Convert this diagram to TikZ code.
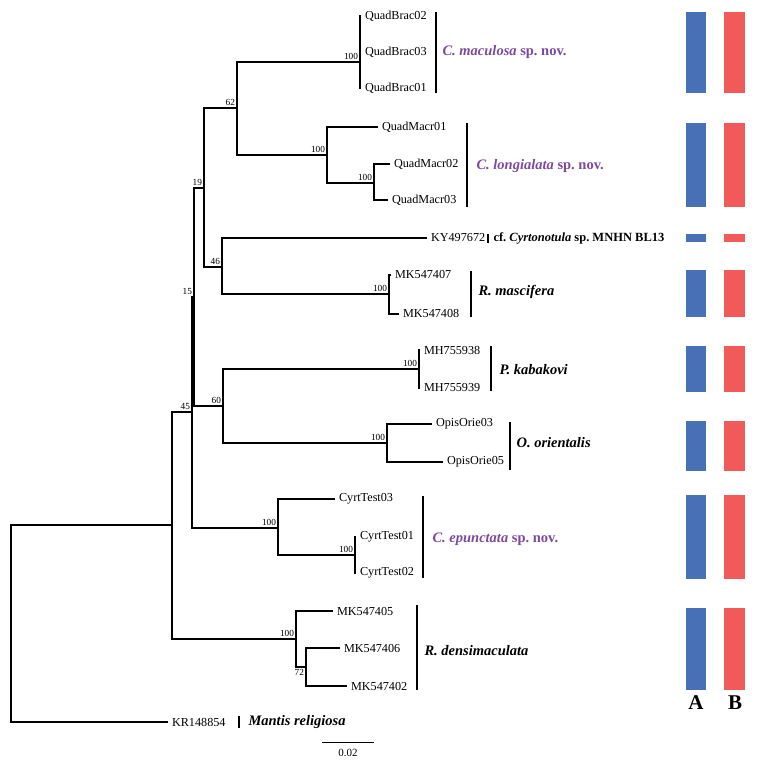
\documentclass[tikz,border=0pt]{standalone}
\usepackage{fontspec}
\setmainfont{Liberation Serif}
\definecolor{spnov}{RGB}{123,74,160}
\definecolor{barA}{RGB}{72,112,182}
\definecolor{barB}{RGB}{242,90,90}
\tikzset{boot/.style={font=\fontsize{9.3}{10}\selectfont,inner sep=1.5pt,anchor=south east},
  leaf/.style={font=\fontsize{12.2}{14}\selectfont,inner sep=0pt,anchor=west,xshift=3.5pt},
  clade/.style={line width=2.6pt},
  taxon/.style={font=\fontsize{14.5}{16}\selectfont\bfseries\itshape,inner sep=0pt,anchor=west}}
\begin{document}
\begin{tikzpicture}[x=1pt,y=-1pt,line width=1.05pt]
\useasboundingbox(0,0)rectangle(756,765);
% inner nodes of the tree
\coordinate(root)at(11,623.5);\coordinate(ing)at(172,525);\coordinate(n45)at(192,412);\coordinate(n15)at(194,297);\coordinate(n19)at(204,188);\coordinate(n62)at(237,108);\coordinate(brac)at(360,62);\coordinate(macr)at(327,155);\coordinate(mac23)at(374,183);
\coordinate(n46)at(222,267);\coordinate(masc)at(389,294);\coordinate(n60)at(223,406);\coordinate(kab)at(419,369);\coordinate(ori)at(387,443);\coordinate(cyrt)at(278,528);\coordinate(cy12)at(355,555);\coordinate(dens)at(296,639);\coordinate(d72)at(306,667);
% tips
\coordinate(QB2)at(361,16);\coordinate(QB3)at(361,52);\coordinate(QB1)at(361,88);\coordinate(QM1)at(378,127);\coordinate(QM2)at(390,164);\coordinate(QM3)at(388,200);\coordinate(KY)at(427,238);\coordinate(MK07)at(391,275);\coordinate(MK08)at(399,314);\coordinate(MH38)at(420,350);
\coordinate(MH39)at(420,388);\coordinate(OO3)at(432,424);\coordinate(OO5)at(443,462);\coordinate(CT3)at(335,499);\coordinate(CT1)at(356,537);\coordinate(CT2)at(356,573);\coordinate(MK05)at(333,611);\coordinate(MK06)at(340,648);\coordinate(MK02)at(347,686);\coordinate(KR)at(168,722);
\draw(root)|-(ing) (root)|-(KR) (ing)|-(n45) (ing)|-(dens) (n45)|-(n15) (n45)|-(cyrt) (n15)|-(n19) (n15)|-(n60) (n19)|-(n62) (n19)|-(n46) (n62)|-(brac) (n62)|-(macr);
\draw(brac)|-(QB2) (brac)|-(QB3) (brac)|-(QB1) (macr)|-(QM1) (macr)|-(mac23) (mac23)|-(QM2) (mac23)|-(QM3) (n46)|-(KY) (n46)|-(masc) (masc)|-(MK07) (masc)|-(MK08);
\draw(n60)|-(kab) (n60)|-(ori) (kab)|-(MH38) (kab)|-(MH39) (ori)|-(OO3) (ori)|-(OO5) (cyrt)|-(CT3) (cyrt)|-(cy12) (cy12)|-(CT1) (cy12)|-(CT2) (dens)|-(MK05) (dens)|-(d72) (d72)|-(MK06) (d72)|-(MK02);
\foreach\c/\t in{QB2/QuadBrac02,QB3/QuadBrac03,QB1/QuadBrac01,QM1/QuadMacr01,QM2/QuadMacr02,QM3/QuadMacr03,KY/KY497672,MK07/MK547407,MK08/MK547408,MH38/MH755938,MH39/MH755939,OO3/OpisOrie03,OO5/OpisOrie05,CT3/CyrtTest03,CT1/CyrtTest01,CT2/CyrtTest02,MK05/MK547405,MK06/MK547406,MK02/MK547402,KR/KR148854}{\node[leaf](t\c)at(\c){\t};}
\foreach\c/\v in{n45/45,n15/15,n19/19,n62/62,brac/100,macr/100,mac23/100,n46/46,masc/100,n60/60,kab/100,ori/100,cyrt/100,cy12/100,dens/100}{\node[boot](b\c)at(\c){\v};}
\node[boot,anchor=north east](bd72)at(d72){72};
% clade bars
\foreach\x/\ya/\yb in{436/12/93,467/123/207,488/234/243,471/271/317,491/346/391,510/422/470,423/496/578,417/605/690,239/716/728}{\draw[clade](\x,\ya)--(\x,\yb);}
\node[taxon,text=spnov](maculosa)at(442,52){C.\ maculosa {\upshape sp.\ nov.}};
\node[taxon,text=spnov](longialata)at(476,166){C.\ longialata {\upshape sp.\ nov.}};
\node[taxon,font=\fontsize{12.5}{14}\selectfont\bfseries](cyrtonotula)at(493,238.5){cf.\ \textit{Cyrtonotula} sp.\ MNHN BL13};
\node[taxon](mascifera)at(478,292){R.\ mascifera};
\node[taxon](kabakovi)at(499,370){P.\ kabakovi};
\node[taxon](orientalis)at(516,443){O.\ orientalis};
\node[taxon,text=spnov](epunctata)at(432,539){C.\ epunctata {\upshape sp.\ nov.}};
\node[taxon](densimaculata)at(424,651){R.\ densimaculata};
\node[taxon](mantis)at(248,722){Mantis religiosa};
% character states A and B
\foreach\ya/\yb in{12/93,123/207,234/242,270/317,346/392,421/471,495/579,608/690}{\fill[barA](686,\ya)rectangle(706,\yb);\fill[barB](724,\ya)rectangle(745,\yb);}
\node[font=\fontsize{21}{22}\selectfont\bfseries](labA)at(696,703){A};\node[font=\fontsize{21}{22}\selectfont\bfseries](labB)at(735,703){B};
% scale bar
\coordinate(sb1)at(322,742);\coordinate(sb2)at(374,742);
\draw[line width=.9pt](sb1)--(sb2);\node[font=\fontsize{11}{12}\selectfont](sblab)at(348,752.5){0.02};
\end{tikzpicture}
\end{document}
